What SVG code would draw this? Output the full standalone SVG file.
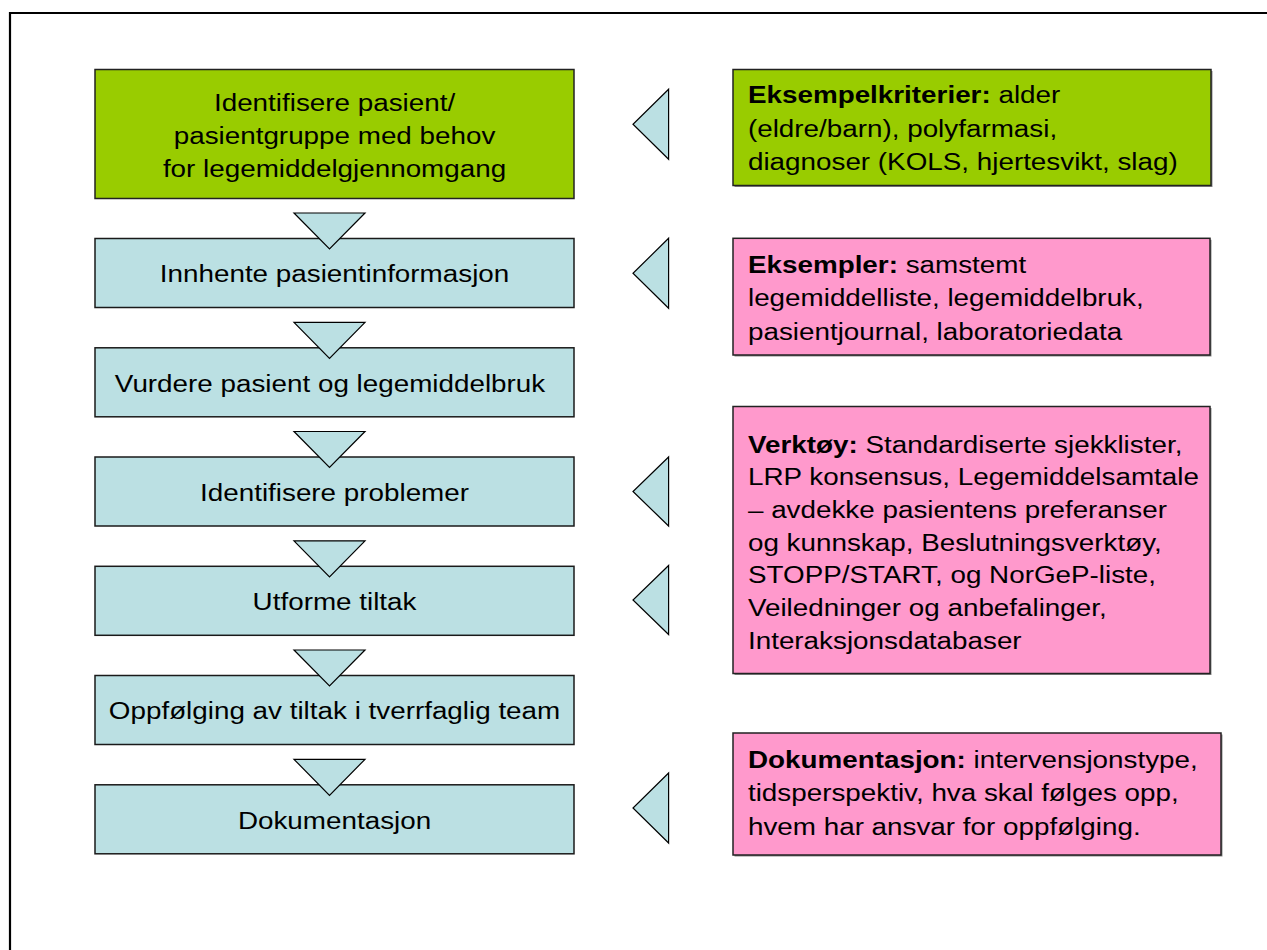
<svg xmlns="http://www.w3.org/2000/svg" width="1267" height="950" viewBox="0 0 1267 950">
<style>
.step{fill:#BBE0E3;stroke:#1a1a1a;stroke-width:1.5}
.green{fill:#99CC00;stroke:#222;stroke-width:1.5}
.pink{fill:#FF99CC;stroke:#222;stroke-width:1.5}
.shadow{fill:#8a8a8a}
.tri{fill:#BBE0E3;stroke:#000;stroke-width:1.2;stroke-linejoin:miter}
text{font-family:"Liberation Sans",Arial,sans-serif;font-size:24.2px;fill:#000}
.c{text-anchor:middle}
.b{font-weight:bold}
</style>
<rect width="1267" height="950" fill="#fff"/>
<path d="M10,950 V13 H1267" fill="none" stroke="#000" stroke-width="2.2"/>

<g id="n1">
<rect class="green" x="95" y="69.5" width="479" height="129"/>
<text class="c" transform="scale(1.15 1)" x="290.9" y="110.7">Identifisere pasient/</text>
<text class="c" transform="scale(1.15 1)" x="290.9" y="144">pasientgruppe med behov</text>
<text class="c" transform="scale(1.15 1)" x="290.9" y="177.3">for legemiddelgjennomgang</text>
</g>
<g id="n2">
<rect class="step" x="95" y="238.5" width="479" height="69"/>
<text class="c" transform="scale(1.15 1)" x="290.9" y="282.5">Innhente pasientinformasjon</text>
</g>
<g id="n3">
<rect class="step" x="95" y="347.8" width="479" height="69"/>
<text class="c" transform="scale(1.15 1)" x="287" y="391.8">Vurdere pasient og legemiddelbruk</text>
</g>
<g id="n4">
<rect class="step" x="95" y="457" width="479" height="69"/>
<text class="c" transform="scale(1.15 1)" x="290.9" y="501">Identifisere problemer</text>
</g>
<g id="n5">
<rect class="step" x="95" y="566.3" width="479" height="69"/>
<text class="c" transform="scale(1.15 1)" x="290.9" y="610.3">Utforme tiltak</text>
</g>
<g id="n6">
<rect class="step" x="95" y="675.5" width="479" height="69"/>
<text class="c" transform="scale(1.15 1)" x="290.9" y="719.5">Oppfølging av tiltak i tverrfaglig team</text>
</g>
<g id="n7">
<rect class="step" x="95" y="784.8" width="479" height="69"/>
<text class="c" transform="scale(1.15 1)" x="290.9" y="828.8">Dokumentasjon</text>
</g>

<g id="r1">
<rect class="shadow" x="734.5" y="71" width="478" height="116"/>
<rect class="green" x="733" y="69.5" width="478" height="116"/>
<text transform="scale(1.15 1)" x="650.4" y="103.5"><tspan class="b">Eksempelkriterier:</tspan> alder</text>
<text transform="scale(1.15 1)" x="650.4" y="137">(eldre/barn), polyfarmasi,</text>
<text transform="scale(1.15 1)" x="650.4" y="170.5">diagnoser (KOLS, hjertesvikt, slag)</text>
</g>
<g id="r2">
<rect class="shadow" x="734.5" y="239.8" width="477" height="116.7"/>
<rect class="pink" x="733" y="238.3" width="477" height="116.7"/>
<text transform="scale(1.15 1)" x="650.4" y="272.7"><tspan class="b">Eksempler:</tspan> samstemt</text>
<text transform="scale(1.15 1)" x="650.4" y="306.2">legemiddelliste, legemiddelbruk,</text>
<text transform="scale(1.15 1)" x="650.4" y="339.7">pasientjournal, laboratoriedata</text>
</g>
<g id="r3">
<rect class="shadow" x="734.5" y="408" width="477" height="267"/>
<rect class="pink" x="733" y="406.5" width="477" height="267"/>
<text transform="scale(1.15 1)" x="650.4" y="452.7"><tspan class="b">Verktøy:</tspan> Standardiserte sjekklister,</text>
<text transform="scale(1.15 1)" x="650.4" y="485.4">LRP konsensus, Legemiddelsamtale</text>
<text transform="scale(1.15 1)" x="650.4" y="518.1">– avdekke pasientens preferanser</text>
<text transform="scale(1.15 1)" x="650.4" y="550.8">og kunnskap, Beslutningsverktøy,</text>
<text transform="scale(1.15 1)" x="650.4" y="583.5">STOPP/START, og NorGeP-liste,</text>
<text transform="scale(1.15 1)" x="650.4" y="616.2">Veiledninger og anbefalinger,</text>
<text transform="scale(1.15 1)" x="650.4" y="648.9">Interaksjonsdatabaser</text>
</g>
<g id="r4">
<rect class="shadow" x="734.5" y="734.5" width="488" height="122"/>
<rect class="pink" x="733" y="733" width="488" height="122"/>
<text transform="scale(1.15 1)" x="650.4" y="768"><tspan class="b">Dokumentasjon:</tspan> intervensjonstype,</text>
<text transform="scale(1.15 1)" x="650.4" y="801.3">tidsperspektiv, hva skal følges opp,</text>
<text transform="scale(1.15 1)" x="650.4" y="834.6">hvem har ansvar for oppfølging.</text>
</g>

<g id="connectors">
<polygon class="tri" points="294,213 365,213 329.5,249"/>
<polygon class="tri" points="294,322.3 365,322.3 329.5,358.3"/>
<polygon class="tri" points="294,431.5 365,431.5 329.5,467.5"/>
<polygon class="tri" points="294,540.8 365,540.8 329.5,576.8"/>
<polygon class="tri" points="294,650 365,650 329.5,686"/>
<polygon class="tri" points="294,759.3 365,759.3 329.5,795.3"/>
<polygon class="tri" points="668.6,89.3 668.6,159.3 633,124.3"/>
<polygon class="tri" points="668.6,238.3 668.6,308.3 633,273.3"/>
<polygon class="tri" points="668.6,457 668.6,526 633,491.5"/>
<polygon class="tri" points="668.6,565.5 668.6,634.5 633,600"/>
<polygon class="tri" points="668.6,773 668.6,843 633,808"/>
</g>
</svg>
